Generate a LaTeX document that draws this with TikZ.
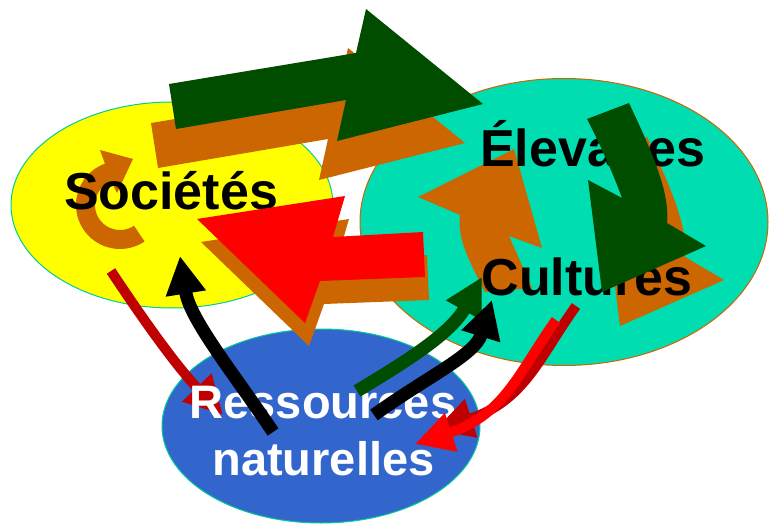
\documentclass[tikz,border=0pt]{standalone}
\usepackage{fontspec}
\setmainfont{Liberation Sans}
\usetikzlibrary{shapes.geometric}
\usetikzlibrary{arrows.meta}

\definecolor{sunyellow}{HTML}{FFFF00}
\definecolor{seagreen}{HTML}{00DDB0}
\definecolor{rimteal}{HTML}{00CC99}
\definecolor{riverblue}{HTML}{3366CC}
\definecolor{clayorange}{HTML}{CC6600}
\definecolor{leafgreen}{HTML}{004D00}
\definecolor{bloodred}{HTML}{C00000}

% block arrows, drawn twice (shadow + face)
\newcommand{\flowgreen}[1]{\fill[#1] (169,84) -- (356,53) -- (366,9) -- (483,104) -- (337,141) -- (346,100) -- (176,129) -- cycle;}
\newcommand{\flowred}[1]{\fill[#1] (197,219) -- (345,196) -- (333,237) -- (423,232) -- (425,277) -- (320,281) -- (305,323) -- cycle;}
\newcommand{\turngreen}[1]{\fill[#1] (587,119) -- (629,103) .. controls (652,152) and (670,192) .. (667,223) -- (706,246) -- (602,292) -- (588,180) -- (622,198) .. controls (614,176) and (601,146) .. (587,119) -- cycle;}

\begin{document}
\begin{tikzpicture}
	[x=1pt, y=-1pt,
	zone/.style={ellipse, line width=1pt, inner sep=0pt},
	bigword/.style={font=\bfseries\fontsize{52}{60}\selectfont, anchor=base, inner sep=0pt},
	resword/.style={font=\bfseries\fontsize{47}{57}\selectfont, anchor=base, inner sep=0pt, text=white},
	thinflow/.style={line width=#1, -{Triangle[width=38pt,length=38pt]}}]

	\useasboundingbox (0,0) rectangle (769,524);

	% zones
	\node [zone, draw=rimteal, fill=sunyellow, minimum width=322pt, minimum height=206pt] (soc) at (172,205) {};
	\node [zone, draw=clayorange, fill=seagreen, minimum width=408pt, minimum height=287pt] (elev) at (564,222) {};
	\node [zone, draw=rimteal, fill=riverblue, minimum width=318pt, minimum height=194pt] (res) at (321,426) {};

	% loop inside the societies
	\fill[clayorange] plot[domain=56:250, samples=40] ({120+44*cos(\x)},{205+44*sin(\x)})
		-- (100,150) -- (133,159) -- (117,193)
		-- plot[domain=250:56, samples=40] ({120+25*cos(\x)},{205+25*sin(\x)}) -- cycle;
	\node [bigword] (soctext) at (171,210) {Sociétés};

	% loop between livestock and crops
	\fill[clayorange] (418,197) -- (514,149) -- (542,248) -- (509,236) -- (532,288) -- (485,292)
		.. controls (470,262) and (457,240) .. (460,215) -- cycle;

	% shadows
	\flowgreen{clayorange, shift={(-18,39)}}
	\flowred{clayorange, shift={(4,23)}}
	\turngreen{clayorange, shift={(18,34)}}

	\node [bigword] (elevtext) at (593,167) {Élevages};
	\node [bigword] (culttext) at (587,295) {Cultures};

	% big arrows
	\flowgreen{leafgreen}
	\flowred{red}
	\turngreen{leafgreen}

	% ends of the thin arrows
	\coordinate (socout) at (111,271);
	\coordinate (resin)  at (223,415);
	\coordinate (resout) at (273,432);
	\coordinate (socin)  at (180,256);
	\coordinate (resgo)  at (357,391);
	\coordinate (cultin) at (482,277);
	\coordinate (resgo2) at (374,415);
	\coordinate (cultin2) at (492,300);
	\coordinate (cultout) at (576,306);
	\coordinate (resin2) at (435,430);
	\coordinate (cultout2) at (556,320);
	\coordinate (resin3) at (415,444);

	\draw [thinflow=10pt, bloodred] (socout) .. controls (150,330) and (180,370) .. (resin);

	\node [resword] (restext) at (323,418) {Ressources};
	\node [resword] (restext2) at (323.5,475) {naturelles};

	% thin curved arrows
	\draw [thinflow=13pt, black] (resout) .. controls (235,375) and (190,320) .. (socin);
	\draw [thinflow=13pt, leafgreen] (resgo) .. controls (400,365) and (450,335) .. (cultin);
	\draw [thinflow=13pt, black] (resgo2) .. controls (430,375) and (475,355) .. (cultin2);
	\draw [thinflow=10pt, bloodred] (cultout) .. controls (540,356) and (525,401) .. (resin2);
	\draw [thinflow=10pt, red] (cultout2) .. controls (520,370) and (505,415) .. (resin3);
\end{tikzpicture}
\end{document}
